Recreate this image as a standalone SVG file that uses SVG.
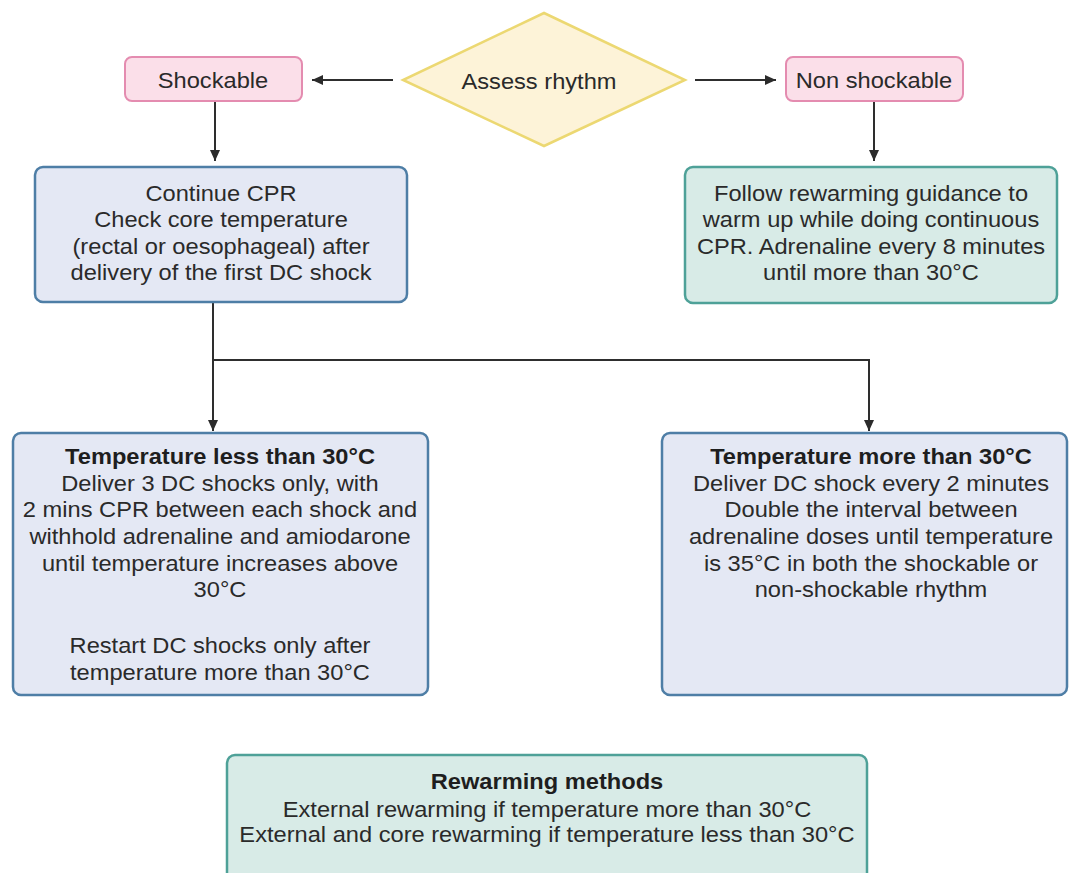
<svg xmlns="http://www.w3.org/2000/svg" width="1069" height="873" viewBox="0 0 1069 873">
<defs>
<marker id="arr" markerUnits="userSpaceOnUse" markerWidth="12" markerHeight="10" refX="11" refY="5" orient="auto">
<path d="M0,0 L11,5 L0,10 Z" fill="#2b2b2b"/>
</marker>
<style>
text{font-family:"Liberation Sans",Arial,Helvetica,sans-serif;font-size:21.5px;fill:#2a2a2a;text-anchor:middle}
.b{font-weight:bold;fill:#1e1e1e}
.pink{fill:#fbdfe9;stroke:#e48cb0;stroke-width:2}
.dia{fill:#fdf3d8;stroke:#ecd872;stroke-width:2.5}
.blue{fill:#e4e8f4;stroke:#4e7ea6;stroke-width:2.5}
.green{fill:#d8ebe7;stroke:#4ea198;stroke-width:2.5}
.ln{fill:none;stroke:#2e2e2e;stroke-width:2}
</style>
</defs>
<rect width="1069" height="873" fill="#ffffff"/>

<g id="connectors">
<path class="ln" d="M393,80 H312" marker-end="url(#arr)"/>
<path class="ln" d="M695,80 H776" marker-end="url(#arr)"/>
<path class="ln" d="M215,101 V161" marker-end="url(#arr)"/>
<path class="ln" d="M874,101 V161" marker-end="url(#arr)"/>
<path class="ln" d="M213,302 V431" marker-end="url(#arr)"/>
<path class="ln" d="M213,360 H869 V431" marker-end="url(#arr)"/>
</g>

<g id="assess">
<polygon class="dia" points="544,13 685,80 544,146 403,80"/>
<text x="0" y="89" transform="translate(539 0) scale(1.1 1)">Assess rhythm</text>
</g>

<g id="shockable">
<rect class="pink" x="125" y="57" width="177" height="44" rx="7"/>
<text x="0" y="88" transform="translate(213 0) scale(1.1 1)">Shockable</text>
</g>

<g id="nonshockable">
<rect class="pink" x="786" y="57" width="177" height="44" rx="7"/>
<text x="0" y="88" transform="translate(874 0) scale(1.1 1)">Non shockable</text>
</g>

<g id="continue">
<rect class="blue" x="35" y="167" width="372" height="135" rx="8"/>
<g transform="translate(221 0) scale(1.1 1)">
<text x="0" y="201">Continue CPR</text>
<text x="0" y="227.5">Check core temperature</text>
<text x="0" y="254">(rectal or oesophageal) after</text>
<text x="0" y="280.5">delivery of the first DC shock</text>
</g>
</g>

<g id="follow">
<rect class="green" x="685" y="167" width="372" height="136" rx="8"/>
<g transform="translate(871 0) scale(1.1 1)">
<text x="0" y="201">Follow rewarming guidance to</text>
<text x="0" y="227.5">warm up while doing continuous</text>
<text x="0" y="254">CPR. Adrenaline every 8 minutes</text>
<text x="0" y="280.5">until more than 30°C</text>
</g>
</g>

<g id="less30">
<rect class="blue" x="13" y="433" width="415" height="262" rx="8"/>
<g transform="translate(220 0) scale(1.1 1)">
<text class="b" x="0" y="464">Temperature less than 30°C</text>
<text x="0" y="491">Deliver 3 DC shocks only, with</text>
<text x="0" y="517.5">2 mins CPR between each shock and</text>
<text x="0" y="544">withhold adrenaline and amiodarone</text>
<text x="0" y="571">until temperature increases above</text>
<text x="0" y="597.5">30°C</text>
<text x="0" y="653">Restart DC shocks only after</text>
<text x="0" y="680">temperature more than 30°C</text>
</g>
</g>

<g id="more30">
<rect class="blue" x="662" y="433" width="405" height="262" rx="8"/>
<g transform="translate(871 0) scale(1.1 1)">
<text class="b" x="0" y="464">Temperature more than 30°C</text>
<text x="0" y="491">Deliver DC shock every 2 minutes</text>
<text x="0" y="517.5">Double the interval between</text>
<text x="0" y="544">adrenaline doses until temperature</text>
<text x="0" y="571">is 35°C in both the shockable or</text>
<text x="0" y="597.5">non-shockable rhythm</text>
</g>
</g>

<g id="rewarming">
<rect class="green" x="227" y="755" width="640" height="150" rx="8"/>
<g transform="translate(547 0) scale(1.1 1)">
<text class="b" x="0" y="789">Rewarming methods</text>
<text x="0" y="817">External rewarming if temperature more than 30°C</text>
<text x="0" y="842">External and core rewarming if temperature less than 30°C</text>
</g>
</g>
</svg>
